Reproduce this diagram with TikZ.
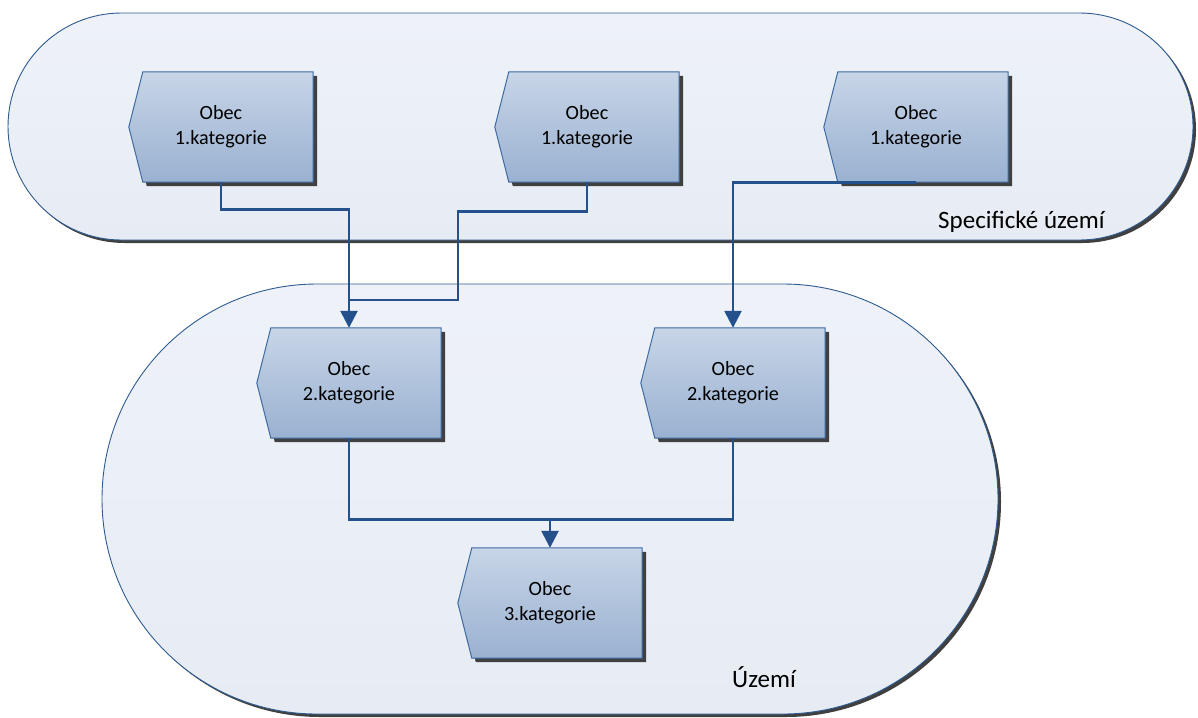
\documentclass[tikz,border=0pt]{standalone}
\usepackage{fontspec}
\setmainfont{Carlito}
\usetikzlibrary{arrows.meta,shadows,backgrounds}
\definecolor{linkblue}{HTML}{24508C}
\definecolor{boxline}{HTML}{3E6AA3}
\definecolor{boxtop}{HTML}{C7D5E7}
\definecolor{boxbot}{HTML}{9AB1D1}
\definecolor{zonetop}{HTML}{EEF2F8}
\definecolor{zonebot}{HTML}{E7ECF4}
\definecolor{zoneline}{HTML}{2D5A91}
\tikzset{
  obec/.style={rectangle, minimum width=184pt, minimum height=110pt, inner sep=0pt,
    align=center, font=\fontsize{20.2}{24.6}\selectfont},
  obecshape/.style={draw=boxline, line width=1pt, top color=boxtop, bottom color=boxbot,
    drop shadow={shadow xshift=4pt, shadow yshift=-4pt, fill=black!75, opacity=1}},
  zone/.style={draw=zoneline, line width=0.9pt, top color=zonetop, bottom color=zonebot,
    drop shadow={shadow xshift=3pt, shadow yshift=-3pt, fill=black!75, opacity=1}},
  link/.style={draw=linkblue, line width=2.6pt},
  tip/.style={-{Triangle[width=17pt,length=17pt]}},
  zonelabel/.style={anchor=base west, inner sep=0pt, font=\fontsize{25}{30}\selectfont}
}
\begin{document}
\begin{tikzpicture}[x=1pt,y=-1pt]
\useasboundingbox (0,0) rectangle (1198,717);
% boxes
\node[obec] (o1) at (221,127) {Obec\\1.kategorie};
\node[obec] (o2) at (587,127) {Obec\\1.kategorie};
\node[obec] (o3) at (916,127) {Obec\\1.kategorie};
\node[obec] (o4) at (349,383) {Obec\\2.kategorie};
\node[obec] (o5) at (733,383) {Obec\\2.kategorie};
\node[obec] (o6) at (550,603) {Obec\\3.kategorie};
\begin{scope}[on background layer]
\node[zone, minimum width=1185pt, minimum height=227pt, rounded corners=113.5pt] (spec) at (600.5,126.5) {};
\node[zone, minimum width=896pt, minimum height=430pt, rounded corners=215pt] (uzemi) at (550,499) {};
\foreach \n in {o1,o2,o3,o4,o5,o6}
  \path[obecshape] ([xshift=14pt]\n.north west) -- (\n.north east) -- (\n.south east)
    -- ([xshift=14pt]\n.south west) -- (\n.west) -- cycle;
\end{scope}
\node[zonelabel] (lspec) at (938,228) {Specifické území};
\node[zonelabel] (luzemi) at (732,687) {Území};
% connectors
\coordinate (j1) at (349,300);
\coordinate (j2) at (458,300);
\coordinate (j3) at (550,519);
\draw[link, tip] (o1.south) -- ++(0,27) -| (o4.north);
\draw[link] (o2.south) -- ++(0,29) -| (j2) -- (j1);
\draw[link, tip] (o3.south) -| (o5.north);
\draw[link] (o4.south) -- ++(0,81) -| (o5.south);
\draw[link, tip] (j3) -- (o6.north);
\end{tikzpicture}
\end{document}
